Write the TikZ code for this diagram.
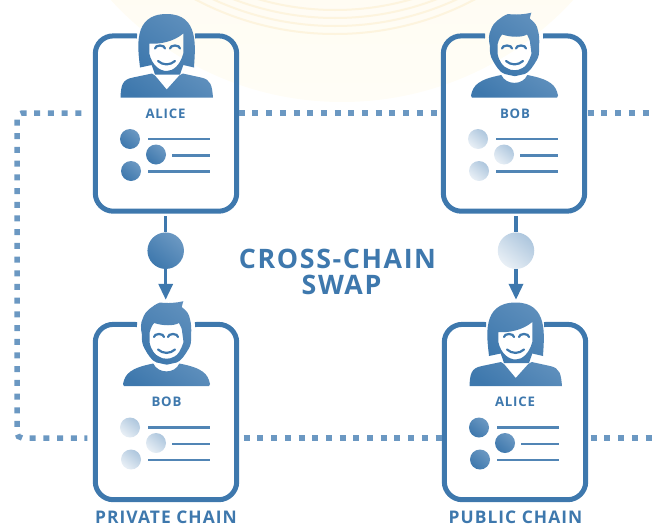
\documentclass[tikz,border=0pt]{standalone}
\usepackage{fontspec}
\setmainfont{Open Sans}
\newfontfamily\widefont[LetterSpace=6]{Open Sans}
\usetikzlibrary{arrows.meta}
\definecolor{chainblue}{HTML}{3E78AD}
\definecolor{chainlight}{HTML}{6B98C2}
\definecolor{coinyellow}{HTML}{FFF9E6}
\definecolor{coinfade}{HTML}{FFFDF6}
\definecolor{coinring}{HTML}{FDF4DE}
\tikzset{
    card/.style={minimum width=141pt, minimum height=175pt, inner sep=0pt},
    rim/.style={draw=chainblue, line width=5pt, rounded corners=18pt},
    person/.style={even odd rule, top color=chainlight!70!chainblue, middle color=chainblue, bottom color=chainblue, shading angle=-35},
    smile/.style={draw=chainblue, line width=2.2pt, line cap=round},
    row/.style={draw=chainblue!90, line width=2.2pt},
    dark/.style={top color=chainlight, bottom color=chainblue, shading angle=-40}, % tokens of the private chain
    pale/.style={top color=chainlight!55, bottom color=chainlight!15, shading angle=-40}, % tokens of the public chain
    link/.style={draw=chainlight, line width=5.5pt, dash pattern=on 6pt off 7.7pt}, % dotted chain
    flow/.style={draw=chainblue, line width=3.4pt},
    tag/.style={text=chainblue, font=\widefont\bfseries\fontsize{13.2}{15}\selectfont},
    chainname/.style={text=chainblue, inner sep=0pt, font=\widefont\bfseries\fontsize{17.4}{19}\selectfont},
    heading/.style={text=chainblue, font=\widefont\bfseries\fontsize{26.8}{28}\selectfont},
    pics/alice/.style={code={
        \path[person] (-26,-56) .. controls (-28,-75) and (-34,-109.5) .. (0.7,-109.5)
            .. controls (34,-109.5) and (29,-75) .. (28,-56) -- (17.3,-58.5) -- (14,-49) -- (-11,-49) -- (-14.3,-58.5) -- cycle
            (-16.7,-80) .. controls (-6,-79) and (8,-82) .. (17.3,-90) -- (17.3,-70)
            .. controls (14,-58) and (7,-52.5) .. (0.7,-52.5)
            .. controls (-6,-52.5) and (-14,-58) .. (-16.7,-70) -- cycle;
        \path[person] (-45.5,-25.8) .. controls (-45,-38) and (-44,-44) .. (-33,-46) -- (-14,-50) -- (-11,-48)
            -- (0.7,-34) -- (13.3,-48) -- (16.7,-50) -- (35,-46) .. controls (45,-44) and (46,-38) .. (47,-25.8) -- cycle;
        \path[smile] (-11,-75) arc (180:360:5 and 3) (4,-75) arc (180:360:5 and 3);
        \path[smile] (-8,-62.5) .. controls (-3,-58) and (4,-58) .. (9,-62.5);
    }},
    pics/bob/.style={code={
        \path[person] (-6,-109.5) .. controls (2,-108.5) and (10,-109) .. (17.3,-110.8) -- (15.7,-105)
            .. controls (21,-101) and (23,-98) .. (23.8,-93.5) .. controls (25.5,-88) and (25.5,-82) .. (25,-76.8)
            .. controls (25.5,-70) and (24.5,-66) .. (22.8,-63.5) .. controls (19,-57) and (15,-51) .. (10.7,-49.5)
            -- (0.7,-47.3) -- (-9.3,-49.5) .. controls (-14,-51) and (-18,-57) .. (-21.5,-63.5)
            .. controls (-23.5,-67) and (-24.5,-71) .. (-24,-76.8) .. controls (-25.5,-84) and (-25.5,-89) .. (-23.2,-93.5)
            .. controls (-22,-98) and (-19,-101) .. (-16,-103.5) .. controls (-13,-106) and (-10,-108) .. (-6,-109.5) -- cycle
            (-16.5,-79) .. controls (-15,-85) and (-13,-88) .. (-11.7,-89)
            .. controls (-3,-86) and (8,-86) .. (13,-89) .. controls (15,-86) and (16,-83) .. (16.3,-79)
            -- (17.5,-70) .. controls (15,-62) and (12,-57) .. (8.5,-55.5)
            .. controls (6,-53.8) and (3,-53.3) .. (0.7,-53.3) .. controls (-2,-53.3) and (-5,-53.8) .. (-7.2,-55.5)
            .. controls (-11,-57) and (-15,-62) .. (-16.5,-70) -- cycle;
        \path[person] (-43,-28) .. controls (-41,-38) and (-36,-44) .. (-12.7,-48.5)
            .. controls (-8,-38) and (9,-38) .. (13.3,-48.5)
            .. controls (37,-44) and (42,-38) .. (44,-28) -- (43,-25.8) -- (-42,-25.8) -- cycle;
        \path[smile] (-12,-75) arc (180:360:5 and 3) (2,-75) arc (180:360:5 and 3);
        \path[smile] (-8,-62.5) .. controls (-3,-58) and (4,-58) .. (9,-62.5);
    }},
    pics/ledger/.style={code={
        \path[#1] (-36,15.5) circle (10);
        \path[#1] (-10,31) circle (10);
        \path[#1] (-35,47.5) circle (10);
        \path[row] (-18,15.5) -- (44,15.5) (6,32) -- (44,32) (-18,48) -- (44,48);
    }},
}
\newcommand{\card}[3]{
    \node[card] (#1) at (#2,#3) {};
    \path[rim] (#2-29,#3-87.5) -- (#1.north west) -- (#1.south west) -- (#1.south east)
        -- (#1.north east) -- (#2+29,#3-87.5);
}
\begin{document}
\begin{tikzpicture}[x=1pt, y=-1pt]
    \useasboundingbox (0,0) rectangle (655,525);
    % coin behind the top of the picture
    \begin{scope}
        \clip (0,0) rectangle (655,525);
        \shade[top color=coinyellow, middle color=coinyellow, bottom color=coinfade] (342,-211) circle (313);
        \draw[coinring, line width=2pt] (335,-265) circle (275) (335,-265) circle (283) (335,-265) circle (291) (335,-265) circle (299);
    \end{scope}

    \card{alicetop}{166}{123.5}
    \card{bobtop}{514}{123.5}
    \card{bobbottom}{166}{412}
    \card{alicebottom}{515}{412}

    \coordinate (linktop) at (0,113);
    \coordinate (linkbottom) at (0,438);
    \coordinate (corner) at (17,113);
    \coordinate (exittop) at (655,113);
    \coordinate (exitbottom) at (655,438);

    % dotted chain
    \draw[link, rounded corners=5pt, shorten <=14pt, shorten >=8pt]
        (alicetop.west |- linktop) -- (corner) -- (corner |- linkbottom) -- (bobbottom.west |- linkbottom);
    \draw[link, shorten <=2pt, shorten >=4pt] (alicetop.east |- linktop) -- (bobtop.west |- linktop);
    \draw[link, shorten <=3pt] (bobtop.east |- linktop) -- (exittop);
    \draw[link, shorten <=7pt, shorten >=2pt] (bobbottom.east |- linkbottom) -- (alicebottom.west |- linkbottom);
    \draw[link, shorten <=5pt] (alicebottom.east |- linkbottom) -- (exitbottom);

    \pic at (alicetop) {alice};
    \pic at (bobtop) {bob};
    \pic at (bobbottom) {bob};
    \pic at (alicebottom) {alice};
    \pic at (alicetop) {ledger=dark};
    \pic at (bobtop) {ledger=pale};
    \pic at (bobbottom) {ledger=pale};
    \pic at (alicebottom) {ledger=dark};

    \node[tag] (n1) at (165.5,113.5) {ALICE};
    \node[tag] (n2) at (515,113.5) {BOB};
    \node[tag] (n3) at (166.5,401.5) {BOB};
    \node[tag] (n4) at (515,401.5) {ALICE};

    \node[circle, minimum size=36.5pt, inner sep=0pt, dark] (darkcoin) at (165.7,250.7) {};
    \node[circle, minimum size=36.5pt, inner sep=0pt, pale] (palecoin) at (516,250.7) {};

    \draw[flow, shorten <=5pt] (alicetop.south -| darkcoin) -- (darkcoin);
    \draw[flow, -{Triangle[width=14pt, length=16pt]}, shorten >=24.5pt] (darkcoin) -- (darkcoin |- bobbottom.north);
    \draw[flow, shorten <=5pt] (bobtop.south -| palecoin) -- (palecoin);
    \draw[flow, -{Triangle[width=14pt, length=16pt]}, shorten >=24.5pt] (palecoin) -- (palecoin |- alicebottom.north);

    \node[heading] (crosschain) at (337.5,259) {CROSS-CHAIN};
    \node[heading] (swap) at (341.5,284.5) {SWAP};
    \node[chainname] (private) at (166,517) {PRIVATE CHAIN};
    \node[chainname] (public) at (515.5,517) {PUBLIC CHAIN};
\end{tikzpicture}
\end{document}
